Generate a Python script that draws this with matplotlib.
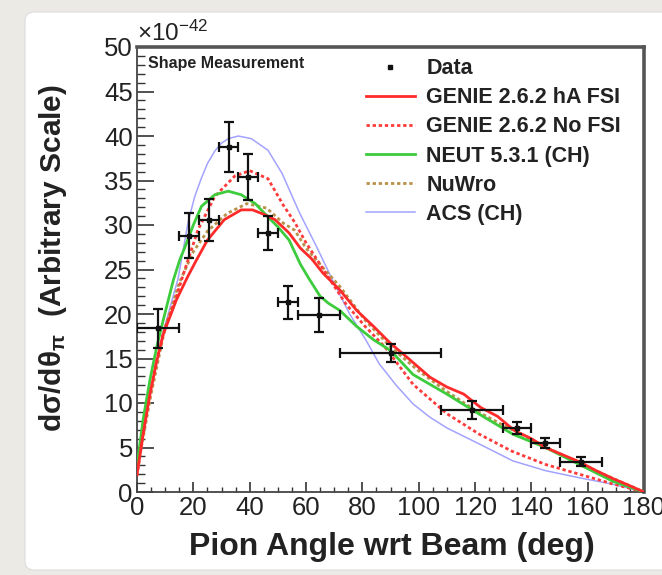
import matplotlib.pyplot as plt
from matplotlib.patches import FancyBboxPatch
from matplotlib.lines import Line2D
from matplotlib.ticker import MultipleLocator

plt.rcParams['font.family'] = ['Liberation Sans', 'DejaVu Sans']
plt.rcParams['mathtext.fontset'] = 'custom'
plt.rcParams['mathtext.rm'] = 'Liberation Sans'
plt.rcParams['mathtext.bf'] = 'Liberation Sans:bold'
plt.rcParams['mathtext.default'] = 'regular'

# data points (pion angle bins, cross section in units of 1e-42)
binLo = [0, 15, 22, 29, 36, 43, 50, 57, 72, 108, 130, 140, 150]
binHi = [15, 22, 29, 36, 43, 50, 57, 72, 108, 130, 140, 150, 165]
dataY = [18.4, 28.8, 30.6, 38.8, 35.4, 29.1, 21.3, 19.9, 15.6, 9.2, 7.2, 5.5, 3.4]
dataErr = [2.2, 2.5, 2.35, 2.8, 2.55, 1.95, 1.9, 1.9, 1.0, 1.0, 0.7, 0.6, 0.5]

# model curves
genieX = [0, 2.2, 4.6, 7, 9.3, 14, 18, 21, 25, 31, 37, 41, 45, 49, 54, 58, 62, 66, 72, 78,
          84, 90, 96, 104, 110, 116, 122, 128, 134, 140, 145, 151, 157, 163, 169, 175, 180]
genieY = [2.0, 6.6, 11.0, 14.7, 17.7, 21.6, 24.2, 26.0, 28.3, 30.6, 31.7, 31.7, 31.2, 30.6, 29.1, 27.4, 26.2, 24.6, 22.7, 20.4,
          18.6, 16.7, 15.1, 12.9, 11.8, 11.0, 9.5, 8.5, 6.9, 6.0, 5.0, 4.2, 3.4, 2.4, 1.5, 0.7, 0.0]

noFsiX = [0, 2.2, 4.6, 7, 9.3, 14, 17, 21.7, 27.6, 34.7, 40, 46.5, 52, 56, 60, 67, 74, 81, 88,
          98, 110, 121.5, 133, 145, 157, 169, 180]
noFsiY = [1.8, 6.5, 11.0, 14.8, 17.8, 22.0, 25.0, 29.5, 33.2, 35.5, 36.1, 35.2, 32.2, 30.3, 28.0, 24.6, 21.2, 18.6, 16.3,
          12.1, 8.8, 6.5, 4.6, 3.1, 2.0, 0.9, 0.0]

neutX = [0, 2.2, 4.6, 7, 9.3, 12.9, 15.2, 17, 20, 22.9, 27.6, 32.4, 37, 42, 46.5, 50, 54, 58, 61, 65, 68,
         72, 78, 84, 90, 98, 110, 121.5, 133.4, 145, 157, 169, 180]
neutY = [2.9, 8.2, 12.6, 16.3, 19.3, 23.8, 26.1, 27.5, 30.0, 32.1, 33.4, 33.8, 33.4, 32.4, 30.9, 29.8, 28.3, 25.6, 24.0, 22.0, 21.2,
         20.4, 18.6, 17.1, 15.9, 13.2, 11.0, 8.75, 6.5, 5.0, 3.1, 1.2, 0.0]

nuwroX = [0, 5, 10, 15, 20, 25, 32, 39, 46, 52, 56, 60, 66, 72, 81, 90, 100, 110, 120, 130, 140, 150, 160, 170, 180]
nuwroY = [2.3, 11.0, 18.5, 23.5, 27.0, 29.3, 31.3, 32.4, 31.9, 30.2, 29.4, 27.4, 25.2, 23.1, 19.3, 16.3, 13.6, 11.3, 9.2, 7.5,
          5.9, 4.3, 2.8, 1.4, 0.0]

acsX = [0, 4.6, 9.3, 14.6, 18.2, 20.5, 22.9, 25, 27.6, 30, 32.4, 36, 40.6, 46.5, 51.5, 57.8, 63.7, 69.6, 75.5, 81.4, 86, 92,
        98, 104, 110, 121.5, 133.4, 145, 157, 169, 180]
acsY = [1.8, 11.0, 18.0, 24.0, 30.4, 33.2, 35.3, 36.9, 38.3, 39.2, 39.7, 40.0, 39.7, 38.4, 35.8, 31.3, 27.6, 23.7, 20.0, 17.0, 14.4, 12.0,
        9.9, 8.4, 7.2, 5.4, 3.5, 2.4, 1.6, 0.87, 0.0]

fig = plt.figure(figsize=(6.62, 5.75), dpi=100, facecolor='#ebeae5')

# white rounded panel behind the plot
panel = FancyBboxPatch((25 / 662, 1 - 570 / 575), 700 / 662, 558 / 575,
                       boxstyle='round,pad=0,rounding_size=0.015', transform=fig.transFigure,
                       facecolor='white', edgecolor='#dddddd', linewidth=0.8, zorder=-10)
fig.patches.append(panel)

ax = fig.add_axes([137 / 662, 1 - 492 / 575, 507 / 662, 445 / 575])
ax.set_zorder(5)
ax.set_facecolor('white')

ax.plot(acsX, acsY, color='#a3a3ff', lw=1.1, zorder=2)
ax.plot(nuwroX, nuwroY, color='#b8924a', lw=2.0, ls=(0, (1.2, 1.0)), zorder=3)
ax.plot(noFsiX, noFsiY, color='#ff3b3b', lw=2.0, ls=(0, (1.2, 1.0)), zorder=3)
ax.plot(neutX, neutY, color='#3ccc3c', lw=2.0, zorder=4)
ax.plot(genieX, genieY, color='#ff2a2a', lw=2.0, zorder=5)

dataX = [(lo + hi) / 2 for lo, hi in zip(binLo, binHi)]
dataXerr = [(hi - lo) / 2 for lo, hi in zip(binLo, binHi)]
ax.errorbar(dataX, dataY, xerr=dataXerr, yerr=dataErr, fmt='s', color='#111111', ms=3.5,
            elinewidth=1.6, capsize=3.5, capthick=1.6, zorder=6)

ax.set_xlim(0, 180)
ax.set_ylim(0, 50)
ax.xaxis.set_major_locator(MultipleLocator(20))
ax.xaxis.set_minor_locator(MultipleLocator(5))
ax.yaxis.set_major_locator(MultipleLocator(5))
ax.yaxis.set_minor_locator(MultipleLocator(1))
ax.tick_params(which='both', direction='in', top=False, right=False, colors='#333333',
               labelcolor='#222222', labelsize=18.5)
ax.tick_params(axis='y', which='major', length=12, width=1.2, pad=3)
ax.tick_params(axis='y', which='minor', length=6, width=1.0)
ax.tick_params(axis='x', which='major', length=7, width=1.2, pad=3)
ax.tick_params(axis='x', which='minor', length=3.5, width=1.0)

for side in ['left', 'bottom']:
    ax.spines[side].set_color('#444444')
    ax.spines[side].set_linewidth(1.3)
for side in ['top', 'right']:
    ax.spines[side].set_color('#555555')
    ax.spines[side].set_linewidth(2.6)

ax.text(0, 1.003, r'$\times$10$^{-42}$', transform=ax.transAxes, fontsize=17.5,
        color='#222222', ha='left', va='bottom')
ax.text(0.022, 0.964, 'Shape Measurement', transform=ax.transAxes, fontsize=11.5,
        fontweight='bold', color='#222222', ha='left', va='center')

fig.text(53 / 662, 1 - 258 / 575, 'dσ/dθ$_{\\mathbf{\\pi}}$  (Arbitrary Scale)', rotation=90,
         fontsize=21.5, fontweight='bold', color='#222222', ha='center', va='center')
fig.text(392 / 662, 1 - 547 / 575, 'Pion Angle wrt Beam (deg)', fontsize=23,
         fontweight='bold', color='#222222', ha='center', va='center')

handles = [
    Line2D([], [], color='#111111', marker='s', ms=3, ls='none'),
    Line2D([], [], color='#ff2a2a', lw=2.0),
    Line2D([], [], color='#ff3b3b', lw=2.0, ls=(0, (1.2, 1.0))),
    Line2D([], [], color='#3ccc3c', lw=2.0),
    Line2D([], [], color='#b8924a', lw=2.0, ls=(0, (1.2, 1.0))),
    Line2D([], [], color='#a3a3ff', lw=1.1),
]
labels = ['Data', 'GENIE 2.6.2 hA FSI', 'GENIE 2.6.2 No FSI', 'NEUT 5.3.1 (CH)', 'NuWro', 'ACS (CH)']
leg = ax.legend(handles, labels, loc='upper left', bbox_to_anchor=(0.452, 0.975), frameon=False,
                borderpad=0, borderaxespad=0, handlelength=2.25, handletextpad=0.55,
                labelspacing=0.38, prop={'size': 15.5, 'weight': 'bold'})
for t in leg.get_texts():
    t.set_color('#222222')

fig.savefig('out.png', dpi=100, facecolor=fig.get_facecolor())
